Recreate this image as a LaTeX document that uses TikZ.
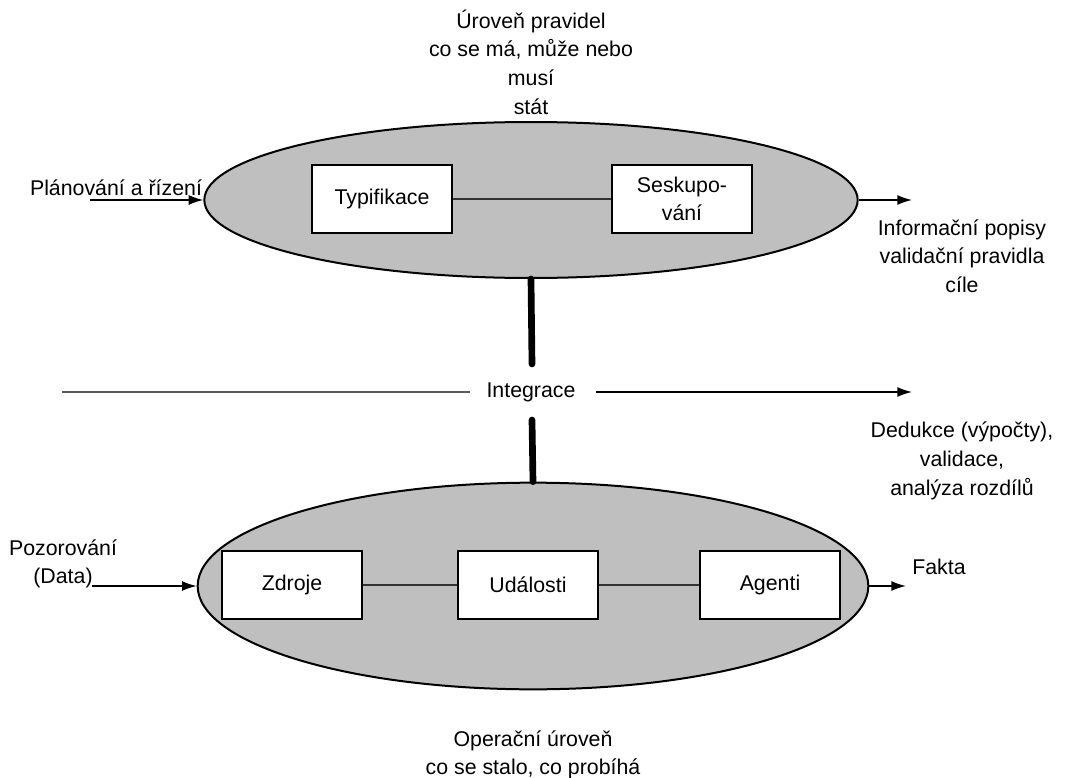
\documentclass[tikz,border=0pt]{standalone}
\usepackage{fontspec}
\setmainfont{Liberation Sans}
\usetikzlibrary{shapes.geometric,arrows.meta}
\begin{document}
\begin{tikzpicture}[x=0.75pt,y=-0.75pt,
  every node/.style={font=\fontsize{16}{21.5}\selectfont},
  level/.style={ellipse,draw=black,line width=1.5pt,fill=black!25,inner sep=0pt},
  entity/.style={rectangle,draw=black,line width=1.4pt,fill=white,
    minimum width=105pt,minimum height=51pt,align=center,inner sep=2pt},
  label/.style={align=center,inner sep=0pt},
  link/.style={line width=0.9pt,draw=black!80},
  flow/.style={line width=1.1pt,-{Latex[length=11pt,width=7.5pt]}},
  spine/.style={line width=5pt,line cap=round}]
\useasboundingbox (0,0) rectangle (1065,778);

% rule level
\node[level,minimum width=490pt,minimum height=117pt] (rules) at (531,200) {};
\node[entity] (typ) at (382,199) {Typifikace};
\node[entity] (grp) at (682,199) {Seskupo-\\vání};
\draw[link] (typ) -- (grp);

% operational level
\node[level,minimum width=503pt,minimum height=155pt] (ops) at (533,586) {};
\node[entity] (src) at (292,585) {Zdroje};
\node[entity] (evt) at (528,585) {Události};
\node[entity] (agt) at (770,585) {Agenti};
\draw[link] (src) -- (evt);
\draw[link] (evt) -- (agt);

% texts
\node[label] (ruletxt) at (531,62) {Úroveň pravidel\\co se má, může nebo\\musí\\stát};
\node[label] (optxt) at (533,755) {Operační úroveň\\co se stalo, co probíhá};
\node[label] (plan) at (116,188) {Plánování a řízení};
\node[label] (obs) at (63,564) {Pozorování\\(Data)};
\node[label] (info) at (962,256) {Informační popisy\\validační pravidla\\cíle};
\node[label] (ded) at (962,461) {Dedukce (výpočty),\\validace,\\analýza rozdílů};
\node[label,anchor=west] (facts) at (912,567) {Fakta};
\node[label] (integ) at (531,392) {Integrace};

% inputs and outputs
\coordinate (planstart) at (90,200);
\coordinate (obsstart) at (92,586);
\coordinate (infoend) at (912,200);
\coordinate (factsend) at (906,586);
\draw[flow] (planstart) -- (rules.west);
\draw[flow] (obsstart) -- (ops.west);
\draw[flow] (rules.east) -- (infoend);
\draw[flow] (ops.east) -- (factsend);

% integration axis
\coordinate (axisstart) at (62,392);
\coordinate (axisleft) at (470,392);
\coordinate (axisright) at (596,392);
\coordinate (axisend) at (912,392);
\draw[line width=1.1pt,draw=black!65] (axisstart) -- (axisleft);
\draw[flow] (axisright) -- (axisend);

% vertical coupling of the two levels
\coordinate (spinetop) at (532,364);
\coordinate (spinebot) at (532,420);
\draw[spine] (rules.south) -- (spinetop);
\draw[spine] (spinebot) -- (ops.north);
\end{tikzpicture}
\end{document}
